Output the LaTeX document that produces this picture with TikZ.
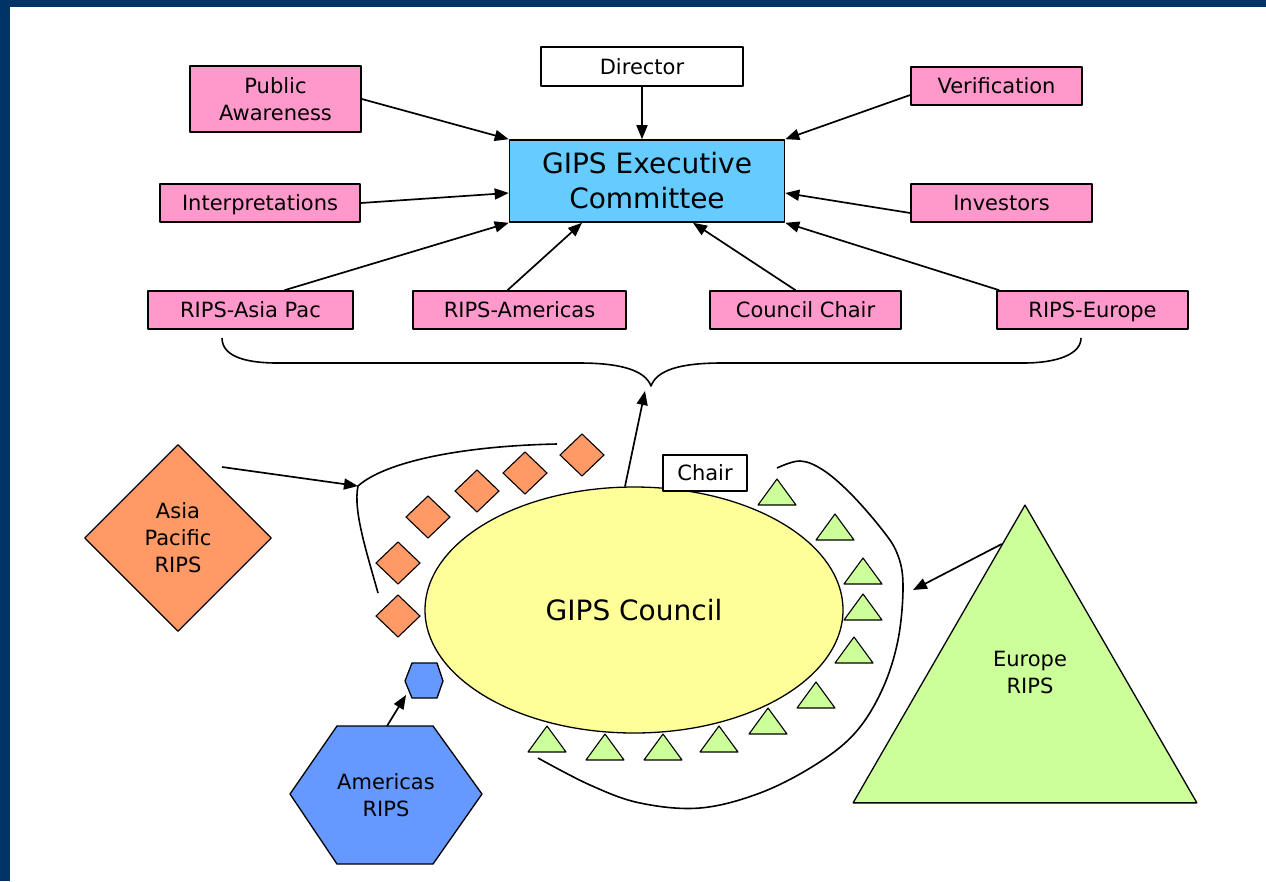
\documentclass[tikz,border=0pt]{standalone}
\usepackage{fontspec}
\setmainfont{DejaVu Sans}
\usetikzlibrary{arrows.meta,shapes.geometric,calc}
\definecolor{gipsnavy}{RGB}{0,51,102}
\definecolor{gipspink}{RGB}{255,153,204}
\definecolor{gipsblue}{RGB}{102,204,255}
\definecolor{gipsyellow}{RGB}{255,255,153}
\definecolor{gipsorange}{RGB}{255,153,102}
\definecolor{gipsgreen}{RGB}{204,255,153}
\definecolor{gipshex}{RGB}{102,153,255}
\tikzset{
  labelfont/.style={font=\fontsize{21}{27}\selectfont},
  bigfont/.style={font=\fontsize{28}{35}\selectfont},
  box/.style={draw, line width=1.6pt, inner sep=0pt, align=center, minimum height=38pt, labelfont},
  oneline/.style={text height=15pt, text depth=0pt},
  pinkbox/.style={box, oneline, fill=gipspink},
  link/.style={->, line width=1.7pt},
  bendline/.style={line width=1.6pt},
  smalldia/.style={draw, line width=1.1pt, fill=gipsorange},
  smalltri/.style={draw, line width=1.1pt, fill=gipsgreen},
}
\begin{document}
\begin{tikzpicture}[x=1pt, y=-1pt, >={Triangle[length=14pt,width=11pt]}, line join=round]
    \useasboundingbox (0,0) rectangle (1266,881);
    \fill[white] (0,0) rectangle (1266,881);
    \fill[gipsnavy] (0,0) rectangle (1266,7);
    \fill[gipsnavy] (0,0) rectangle (10,881);

    % executive committee and its inputs
    \node[box, oneline, fill=white, minimum width=202pt, minimum height=39pt] (director) at (642,66.5) {Director};
    \node[box, fill=gipsblue, bigfont, minimum width=275pt, minimum height=82pt] (exec) at (647,181) {GIPS Executive\\Committee};
    \node[box, fill=gipspink, minimum width=171pt, minimum height=66pt] (pubaw) at (275.5,99) {Public\\Awareness};
    \node[pinkbox, minimum width=200pt] (interp) at (260,203) {Interpretations};
    \node[pinkbox, minimum width=171pt] (verif) at (996.5,86) {Verification};
    \node[pinkbox, minimum width=181pt] (invest) at (1001.5,203) {Investors};
    \node[pinkbox, minimum width=205pt] (ripsasia) at (250.5,310) {RIPS-Asia Pac};
    \node[pinkbox, minimum width=213pt] (ripsam) at (519.5,310) {RIPS-Americas};
    \node[pinkbox, minimum width=191pt] (chaircc) at (805.5,310) {Council Chair};
    \node[pinkbox, minimum width=191pt] (ripseu) at (1092.5,310) {RIPS-Europe};

    \draw[link] (director) -- (director |- exec.north);
    \draw[link] (pubaw.east) -- (exec.north west);
    \draw[link] (interp.east) -- ($(exec.west)+(0,12)$);
    \draw[link] ($(ripsasia.north)+(34,0)$) -- (exec.south west);
    \draw[link] ($(ripsam.north)+(-12,0)$) -- ($(exec.south)+(-65,0)$);
    \draw[link] ($(chaircc.north)+(-10,0)$) -- ($(exec.south)+(46,0)$);
    \draw[link] ($(ripseu.north west)+(3,0)$) -- (exec.south east);
    \draw[link] ($(verif.west)+(0,9)$) -- (exec.north east);
    \draw[link] ($(invest.west)+(0,10)$) -- ($(exec.east)+(0,12)$);

    % brace over the RIPS row
    \coordinate (cusp) at (651,386);
    \draw[bendline] (222,338) .. controls (222,358) and (250,363) .. (277,363) -- (579,363)
        .. controls (620,363) and (645,370) .. (cusp)
        .. controls (657,370) and (680,363) .. (722,363) -- (1024,363)
        .. controls (1055,363) and (1081,355) .. (1081,338);

    % council
    \node[ellipse, draw, line width=1.3pt, fill=gipsyellow, bigfont, minimum width=418pt, minimum height=246pt, inner sep=0pt] (council) at (634,610) {GIPS Council};
    \node[box, oneline, fill=white, minimum width=84pt, minimum height=36pt] (chair) at (705,473) {Chair};
    \coordinate (cusparrow) at (645,391);
    \draw[link] ($(council.north)+(-9,0)$) -- (cusparrow);

    % asia pacific
    \foreach \x/\y in {582/455, 525/473, 477/491, 428/517, 398/563, 398/616}
        \draw[smalldia] (\x,\y-21) -- (\x+22,\y) -- (\x,\y+21) -- (\x-22,\y) -- cycle;
    \coordinate (leftbend) at (358,486);
    \draw[bendline] (378,593) .. controls (366,550) and (353,510) .. (leftbend)
        .. controls (385,462) and (460,446) .. (557,444);
    \node[diamond, draw, line width=1.3pt, fill=gipsorange, minimum width=187pt, minimum height=187pt, inner sep=0pt, align=center, labelfont] (apac) at (178,538) {Asia\\Pacific\\RIPS};
    \coordinate (apacarrow) at (222,467);
    \draw[link] (apacarrow) -- (leftbend);

    % europe
    \foreach \x/\y in {777/505, 835/540, 863/584, 863/620, 854/663, 816/708, 768/734, 719/752, 663/760, 605/760, 547/752}
        \draw[smalltri] (\x-19,\y) -- (\x,\y-26) -- (\x+19,\y) -- cycle;
    \draw[bendline] plot[smooth, tension=0.6] coordinates {(777,468) (800,461) (823,470) (850,493) (880,527) (897,553) (903,585) (898,640) (882,690) (855,733) (815,765) (760,793) (700,808) (640,803) (590,785) (538,758)};
    \node[regular polygon, regular polygon sides=3, draw, line width=1.3pt, fill=gipsgreen, minimum size=397pt, inner sep=0pt] (eur) at (1025,703.6) {};
    \node[labelfont, align=center] (eurtext) at (1030,672) {Europe\\RIPS};
    \coordinate (eurtip) at (913,590);
    \draw[link] ($(eur.corner 1)!0.134!(eur.corner 2)$) -- (eurtip);

    % americas
    \draw[line width=1.3pt, fill=gipshex] (337,726) -- (433,726) -- (482,794) -- (433,864) -- (337,864) -- (290,794) -- cycle;
    \node[labelfont, align=center] (amrips) at (386,795) {Americas\\RIPS};
    \draw[line width=1.3pt, fill=gipshex] (412,663) -- (437,663) -- (443,681) -- (437,698) -- (412,698) -- (405,681) -- cycle;
    \coordinate (amtop) at (387,726);
    \coordinate (amsmall) at (406,695);
    \draw[link] (amtop) -- (amsmall);
\end{tikzpicture}
\end{document}
